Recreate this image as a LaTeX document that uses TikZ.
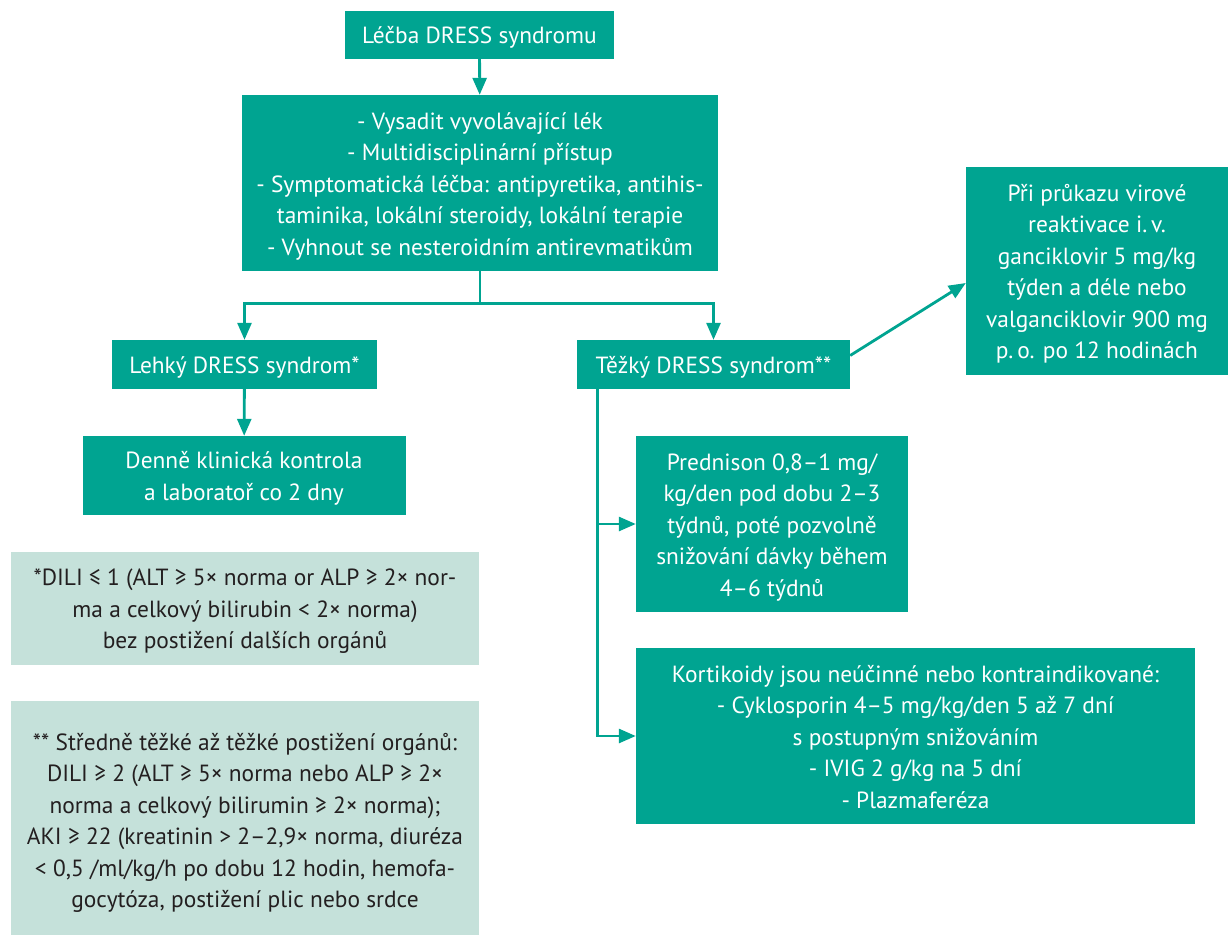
\documentclass[tikz,border=0pt]{standalone}
\usepackage{fontspec}
\setmainfont{PT Sans}
\usepackage{tikz}
\usetikzlibrary{positioning}
\usetikzlibrary{arrows.meta}

\definecolor{dressteal}{RGB}{0,164,145}
\definecolor{dresspale}{RGB}{197,225,218}
\definecolor{dressink}{RGB}{35,31,32}

\tikzset{
  darkbox/.style={fill=dressteal, text=white, align=center, inner sep=0pt, text depth=0pt,
    font=\fontsize{23.4}{31.5}\selectfont},
  palebox/.style={fill=dresspale, text=dressink, align=center, inner sep=0pt, text depth=0pt,
    font=\fontsize{23.4}{31.5}\selectfont},
  topgap/.style={execute at begin node={\rule{0pt}{#1}}},
  link/.style={draw=dressteal, line width=2.8pt},
  tip/.style={-{Triangle[length=17pt,width=14pt]}}
}

\begin{document}
\begin{tikzpicture}[x=1pt, y=-1pt]

      \useasboundingbox (0,0) rectangle (1228,936);

      \node[darkbox, topgap=18pt, minimum width=269pt, minimum height=48pt] (start) at (479.5,35) {Léčba DRESS syndromu};

      \node[darkbox, topgap=144pt, minimum width=476pt, minimum height=176pt] (measures) at (480,183) {- Vysadit vyvolávající lék\\- Multidisciplinární přístup\\- Symptomatická léčba: antipyretika, antihis-\\taminika, lokální steroidy, lokální terapie\\- Vyhnout se nesteroidním antirevmatikům};

      \node[darkbox, topgap=18pt, minimum width=265pt, minimum height=49pt] (mild) at (244.5,364.5) {Lehký DRESS syndrom*};

      \node[darkbox, topgap=18pt, minimum width=273pt, minimum height=49pt] (severe) at (713.5,364.5) {Těžký DRESS syndrom**};

      \node[darkbox, topgap=175pt, minimum width=262pt, minimum height=208pt] (virus) at (1097,271) {Při průkazu virové\\reaktivace i.\,v.\\ganciklovir 5 mg/kg\\týden a déle nebo\\valganciklovir 900 mg\\p.\,o. po 12 hodinách};

      \node[darkbox, topgap=49.5pt, minimum width=323pt, minimum height=79pt] (daily) at (244,475.5) {Denně klinická kontrola\\a laboratoř co 2 dny};

      \node[darkbox, topgap=144pt, minimum width=272pt, minimum height=176pt] (pred) at (772,524) {Prednison 0,8–1 mg/\\kg/den pod dobu 2–3\\týdnů, poté pozvolně\\snižování dávky během\\4–6 týdnů};

      \node[darkbox, topgap=144pt, minimum width=559pt, minimum height=176pt] (rescue) at (915.5,736) {Kortikoidy jsou neúčinné nebo kontraindikované:\\- Cyklosporin 4–5 mg/kg/den 5 až 7 dní\\s postupným snižováním\\- IVIG 2 g/kg na 5 dní\\- Plazmaferéza};

      \node[palebox, topgap=80pt, minimum width=468pt, minimum height=113pt] (mildnote) at (245,608.5) {*DILI ≤ 1 (ALT ≥ 5× norma or ALP ≥ 2× nor-\\ma a celkový bilirubin < 2× norma)\\bez postižení dalších orgánů};

      \node[palebox, topgap=179pt, minimum width=468pt, minimum height=234pt] (severenote) at (245,818) {** Středně těžké až těžké postižení orgánů:\\DILI ≥ 2 (ALT ≥ 5× norma nebo ALP ≥ 2×\\norma a celkový bilirumin ≥ 2× norma);\\AKI ≥ 22 (kreatinin > 2–2,9× norma, diuréza\\< 0,5 /ml/kg/h po dobu 12 hodin, hemofa-\\gocytóza, postižení plic nebo srdce};

      \draw[link, tip] (start) -- (measures);
      \draw[link] (measures.south) -- ++(0,32) coordinate (fork);
      \draw[link, tip] (fork) -| (mild.north);
      \draw[link, tip] (fork) -| (severe.north);
      \draw[link, tip] (mild) -- (daily);
      \draw[link, tip] ([yshift=9pt]severe.east) -- ([yshift=-12pt]virus.west);
      \draw[link, tip] ([xshift=21pt]severe.south west) |- (pred.west);
      \draw[link, tip] ([xshift=21pt]severe.south west) |- (rescue.west);

  \end{tikzpicture}
\end{document}
